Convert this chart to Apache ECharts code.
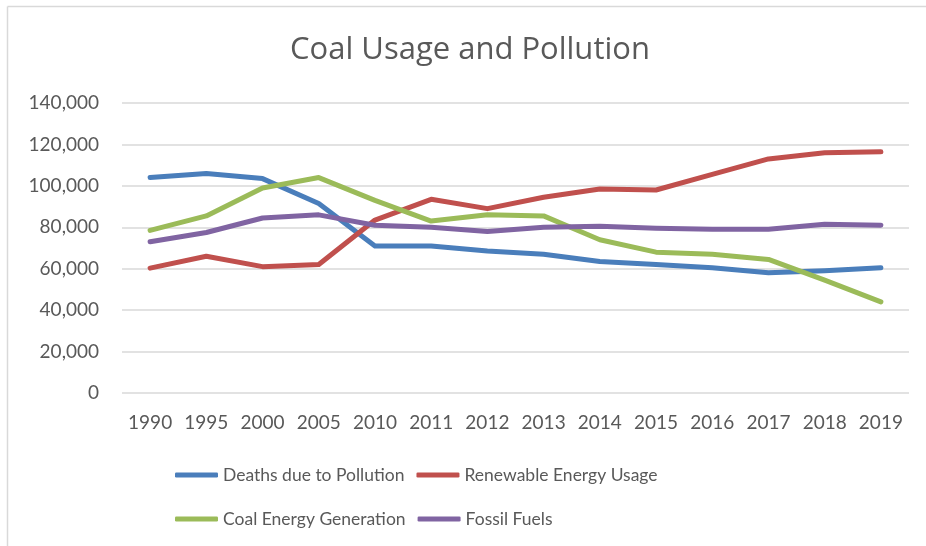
<!DOCTYPE html>
<html>
<head>
<meta charset="utf-8">
<script src="https://cdn.jsdelivr.net/npm/echarts@6/dist/echarts.min.js"></script>
<style>
  html, body { margin: 0; padding: 0; background: #ffffff; }
  #chart { width: 926px; height: 546px; }
</style>
</head>
<body>
<div id="chart"></div>
<script>
// Years on the category axis
const years = ['1990', '1995', '2000', '2005', '2010', '2011', '2012', '2013', '2014', '2015', '2016', '2017', '2018', '2019'];

// Series values
const deathsDueToPollution = [104000, 106000, 103500, 91500, 71000, 71000, 68500, 67000, 63500, 62000, 60500, 58000, 59000, 60500];
const renewableEnergyUsage = [60300, 66000, 61000, 62000, 83500, 93500, 89000, 94500, 98500, 98000, 105500, 113000, 116000, 116500];
const coalEnergyGeneration = [78500, 85500, 99000, 104000, 93000, 83000, 86000, 85500, 74000, 68000, 67000, 64500, 54500, 44000];
const fossilFuels = [73000, 77500, 84500, 86000, 81000, 80000, 78000, 80000, 80500, 79500, 79000, 79000, 81500, 81000];

const seriesNames = ['Deaths due to Pollution', 'Renewable Energy Usage', 'Coal Energy Generation', 'Fossil Fuels'];
const seriesColors = ['#4a7ebb', '#c0504d', '#9bbb59', '#8064a2'];
const seriesValues = [deathsDueToPollution, renewableEnergyUsage, coalEnergyGeneration, fossilFuels];

const FONT = 'Lato, "Open Sans", sans-serif';
const TEXT_COLOR = '#595959';
const GRID_COLOR = '#d9d9d9';

const chart = echarts.init(document.getElementById('chart'), null, { renderer: 'canvas' });

const legendBase = {
  orient: 'horizontal',
  left: 175,
  padding: 0,
  icon: 'roundRect',
  itemWidth: 43,
  itemHeight: 5,
  itemGap: 12,
  textStyle: { fontFamily: FONT, fontSize: 17.5, color: TEXT_COLOR, width: 180, lineHeight: 20 }
};

chart.setOption({
  animation: false,
  backgroundColor: '#ffffff',
  title: {
    text: 'Coal Usage and Pollution',
    left: 290,
    top: 35,
    padding: 0,
    textStyle: { fontFamily: '"Open Sans", sans-serif', fontSize: 31, fontWeight: 'normal', color: TEXT_COLOR }
  },
  legend: [
    Object.assign({}, legendBase, { top: 465, data: [seriesNames[0], seriesNames[1]] }),
    Object.assign({}, legendBase, { top: 509, data: [seriesNames[2], seriesNames[3]] })
  ],
  grid: { left: 122, right: 17, top: 103, bottom: 153, containLabel: false },
  xAxis: {
    type: 'category',
    data: years,
    boundaryGap: true,
    axisLine: { show: false },
    axisTick: { show: false },
    axisLabel: { interval: 0, hideOverlap: false, fontFamily: FONT, fontSize: 19, color: TEXT_COLOR, margin: 20 }
  },
  yAxis: {
    type: 'value',
    min: 0,
    max: 140000,
    interval: 20000,
    axisLine: { show: false },
    axisTick: { show: false },
    splitLine: { lineStyle: { color: GRID_COLOR, width: 1.5 } },
    axisLabel: {
      fontFamily: FONT, fontSize: 19, color: TEXT_COLOR, margin: 23,
      formatter: v => v.toLocaleString('en-US')
    }
  },
  graphic: [
    { type: 'line', shape: { x1: 7.5, y1: 6.5, x2: 926, y2: 6.5 }, style: { stroke: GRID_COLOR, lineWidth: 1.5 } },
    { type: 'line', shape: { x1: 7.5, y1: 6.5, x2: 7.5, y2: 546 }, style: { stroke: GRID_COLOR, lineWidth: 1.5 } }
  ],
  series: seriesNames.map((name, i) => ({
    name: name,
    type: 'line',
    data: seriesValues[i],
    showSymbol: false,
    symbol: 'none',
    color: seriesColors[i],
    itemStyle: { color: seriesColors[i] },
    lineStyle: { color: seriesColors[i], width: 5, cap: 'round', join: 'round' }
  }))
});
</script>
</body>
</html>
